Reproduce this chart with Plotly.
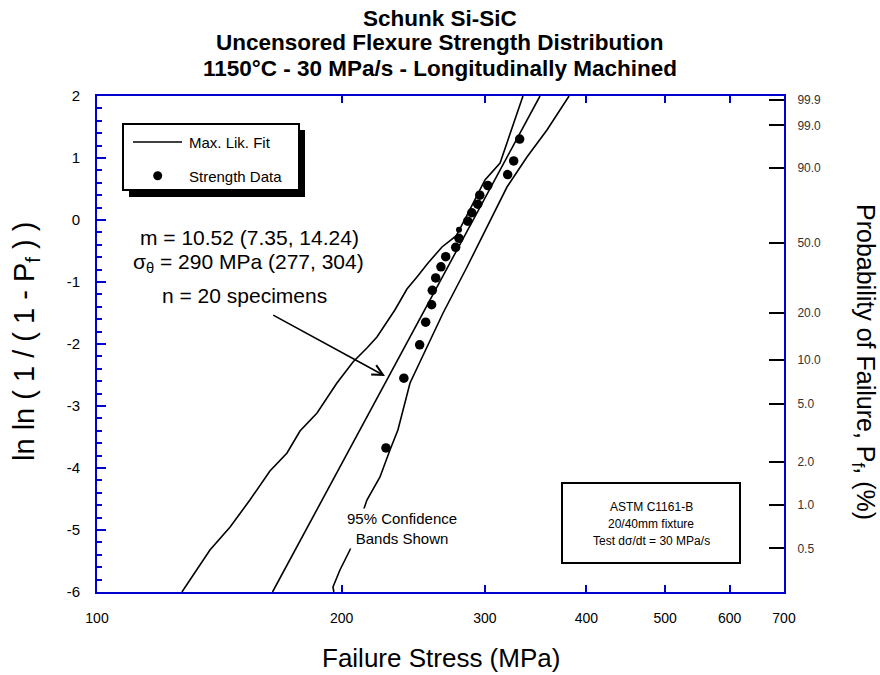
import math
import plotly.graph_objects as go

# ---------------- data ----------------
strength_mpa = [226.7, 238.5, 249.4, 253.7, 258.0, 258.5, 261.0, 264.9, 268.5, 276.2,
                278.8, 278.8, 285.8, 289.1, 294.0, 295.7, 302.5, 320.0, 325.5, 331.1]
strength_lnln = [-3.676, -2.552, -2.013, -1.648, -1.367, -1.135, -0.934, -0.755, -0.592, -0.440,
                 -0.295, -0.156, -0.019, 0.117, 0.255, 0.400, 0.556, 0.732, 0.952, 1.305]

fit_stress = [164.4, 350.7]
fit_lnln = [-6.0, 2.0]

left_band_stress = [127.2, 137.7, 145.8, 154.2, 163.2, 171.3, 177.7, 186.5, 197.3, 206.5, 214.8,
                    221.0, 232.5, 240.6, 247.5, 255.4, 265.7, 276.5, 284.4, 292.6, 300.1, 313.2, 334.2]
left_band_lnln = [-6.0, -5.323, -4.952, -4.516, -4.048, -3.758, -3.403, -3.113, -2.629, -2.290, -2.065,
                  -1.887, -1.452, -1.113, -0.919, -0.694, -0.435, -0.258, 0.048, 0.371, 0.645, 0.919, 2.0]

right_band_stress = [195.6, 195.1, 199.0, 204.7, 214.8, 222.9, 229.3, 234.5, 242.7, 254.7, 266.5,
                     285.2, 301.8, 319.4, 338.0, 357.7, 380.8]
right_band_lnln = [-6.0, -5.919, -5.645, -5.323, -4.516, -4.145, -3.710, -3.387, -2.629, -2.048, -1.500,
                   -0.758, -0.113, 0.532, 1.016, 1.452, 2.0]

x_tick_vals = [100, 200, 300, 400, 500, 600, 700]
x_tick_text = ["100", "200", "300", "400", "500", "600", "700"]
y_tick_vals = [-6, -5, -4, -3, -2, -1, 0, 1, 2]
y_tick_text = ["-6", "-5", "-4", "-3", "-2", "-1", "0", "1", "2"]
prob_percent = [99.9, 99.0, 90.0, 50.0, 20.0, 10.0, 5.0, 2.0, 1.0, 0.5]
prob_text = ["99.9", "99.0", "90.0", "50.0", "20.0", "10.0", "5.0", "2.0", "1.0", "0.5"]

title_lines = ["Schunk Si-SiC", "Uncensored Flexure Strength Distribution",
               "1150\u00b0C - 30 MPa/s - Longitudinally Machined"]

# ---------------- layout geometry ----------------
W, H = 880, 675
L, R, T, B = 97, 96, 96, 83
PW, PH = W - L - R, H - T - B
BLUE = "#0000d0"
FONT = "Liberation Sans, Arial, sans-serif"


def X(px):
    return (px - L) / PW


def Y(py):
    return (H - B - py) / PH


prob_pos = [math.log(-math.log(1 - p / 100.0)) for p in prob_percent]

fig = go.Figure()
line_style = dict(color="black", width=1.6)
fig.add_trace(go.Scatter(x=left_band_stress, y=left_band_lnln, mode="lines", line=line_style,
                         name="95% band", showlegend=False, hoverinfo="skip"))
fig.add_trace(go.Scatter(x=right_band_stress, y=right_band_lnln, mode="lines", line=line_style,
                         name="95% band", showlegend=False, hoverinfo="skip"))
fig.add_trace(go.Scatter(x=fit_stress, y=fit_lnln, mode="lines", line=line_style,
                         name="Max. Lik. Fit", showlegend=False))
sizes = [9.5] * len(strength_mpa)
sizes[11] = 6
fig.add_trace(go.Scatter(x=strength_mpa, y=strength_lnln, mode="markers",
                         marker=dict(color="black", size=sizes, opacity=1, line=dict(width=0)),
                         name="Strength Data", showlegend=False))
# carrier trace for the probability axis
fig.add_trace(go.Scatter(x=[fit_stress[0]], y=[fit_lnln[0]], yaxis="y2", mode="markers",
                         marker=dict(opacity=0), showlegend=False, hoverinfo="skip"))

shapes = []
annotations = []

# legend box with drop shadow
shapes.append(dict(type="rect", xref="paper", yref="paper", x0=X(129), x1=X(305), y0=Y(197), y1=Y(130),
                   fillcolor="black", line=dict(width=0), layer="above"))
shapes.append(dict(type="rect", xref="paper", yref="paper", x0=X(123), x1=X(299), y0=Y(190), y1=Y(124),
                   fillcolor="white", line=dict(color="black", width=2), layer="above"))
shapes.append(dict(type="line", xref="paper", yref="paper", x0=X(133), x1=X(182), y0=Y(142), y1=Y(142),
                   line=dict(color="black", width=1.6), layer="above"))
shapes.append(dict(type="circle", xref="paper", yref="paper", x0=X(153.2), x1=X(162.2), y0=Y(180.2), y1=Y(171.2),
                   fillcolor="black", line=dict(width=0), layer="above"))
annotations.append(dict(xref="paper", yref="paper", x=X(187), y=Y(142), xanchor="left", yanchor="middle",
                        text="Max. Lik. Fit", showarrow=False, font=dict(size=15, color="black")))
annotations.append(dict(xref="paper", yref="paper", x=X(187), y=Y(176), xanchor="left", yanchor="middle",
                        text="Strength Data", showarrow=False, font=dict(size=15, color="black")))

# ASTM box
shapes.append(dict(type="rect", xref="paper", yref="paper", x0=X(562), x1=X(740), y0=Y(563), y1=Y(483),
                   fillcolor="white", line=dict(color="black", width=2), layer="above"))
for txt, py in [("ASTM C1161-B", 507), ("20/40mm fixture", 524), ("Test d\u03c3/dt = 30 MPa/s", 541)]:
    annotations.append(dict(xref="paper", yref="paper", x=X(651), y=Y(py), xanchor="center", yanchor="middle",
                            text=txt, showarrow=False, font=dict(size=12, color="black")))

# parameter text
annotations.append(dict(xref="paper", yref="paper", x=X(249), y=Y(237), xanchor="center", yanchor="middle",
                        text="m = 10.52 (7.35, 14.24)", showarrow=False, font=dict(size=21, color="black")))
annotations.append(dict(xref="paper", yref="paper", x=X(248), y=Y(263), xanchor="center", yanchor="middle",
                        text="\u03c3<sub>\u03b8</sub> = 290 MPa (277, 304)", showarrow=False,
                        font=dict(size=21, color="black")))
annotations.append(dict(xref="paper", yref="paper", x=X(244), y=Y(295), xanchor="center", yanchor="middle",
                        text="n = 20 specimens", showarrow=False, font=dict(size=21, color="black")))
# arrow
annotations.append(dict(xref="paper", yref="paper", x=X(385), y=Y(376), ax=271.7 - 385, ay=314.3 - 376,
                        axref="pixel", ayref="pixel", text="", showarrow=True, arrowhead=5, arrowsize=1.3,
                        arrowwidth=1.6, arrowcolor="black"))
# band label
annotations.append(dict(xref="paper", yref="paper", x=X(401.5), y=Y(528), xanchor="center", yanchor="middle",
                        text="95% Confidence<br>Bands Shown", showarrow=False, bgcolor="white",
                        font=dict(size=15, color="black")))

# title lines
for txt, py in zip(title_lines, [18, 43, 68]):
    annotations.append(dict(xref="paper", yref="paper", x=X(440), y=Y(py), xanchor="center", yanchor="middle",
                            text="<b>" + txt + "</b>", showarrow=False, font=dict(size=22.5, color="black")))

annotations.append(dict(xref="paper", yref="paper", x=X(441), y=Y(658), xanchor="center", yanchor="middle",
                        text="Failure Stress (MPa)", showarrow=False, font=dict(size=26, color="black")))
annotations.append(dict(xref="paper", yref="paper", x=X(26), y=Y(342), xanchor="center", yanchor="middle",
                        text="ln ln ( 1 / ( 1 - P<sub>f</sub> ) )", textangle=-90, showarrow=False,
                        font=dict(size=29, color="black")))
annotations.append(dict(xref="paper", yref="paper", x=X(864), y=Y(362), xanchor="center", yanchor="middle",
                        text="Probability of Failure, P<sub>f</sub>, (%)", textangle=90, showarrow=False,
                        font=dict(size=25, color="black")))

fig.update_layout(
    width=W, height=H,
    margin=dict(l=L, r=R, t=T, b=B, pad=0),
    paper_bgcolor="white", plot_bgcolor="white",
    font=dict(family=FONT, color="black"),
    showlegend=False,
    shapes=shapes,
    annotations=annotations,
    xaxis=dict(type="log", range=[2, math.log10(700)], tickvals=x_tick_vals, ticktext=x_tick_text,
               ticks="inside", ticklen=7, tickwidth=2, tickcolor=BLUE, showline=True, linecolor=BLUE,
               linewidth=2, mirror="ticks", showgrid=False, zeroline=False,
               tickfont=dict(size=14, color="black"), ticklabelstandoff=12),
    yaxis=dict(range=[-6, 2], tickvals=y_tick_vals, ticktext=y_tick_text, ticks="inside", ticklen=9,
               tickwidth=2, tickcolor=BLUE,
               showline=True, linecolor=BLUE, linewidth=2, showgrid=False, zeroline=False,
               minor=dict(dtick=0.2, ticks="inside", ticklen=5, tickwidth=1.5, tickcolor=BLUE, showgrid=False),
               tickfont=dict(size=15, color="black"), ticklabelstandoff=12),
    yaxis2=dict(range=[-6, 2], overlaying="y", side="right", tickvals=prob_pos, ticktext=prob_text,
                ticks="inside", ticklen=15, tickwidth=2, tickcolor="black", showline=True, linecolor=BLUE,
                linewidth=2, showgrid=False, zeroline=False,
                tickfont=dict(size=12, color="#333333"), ticklabelstandoff=9),
)

fig.write_html("out.html")
